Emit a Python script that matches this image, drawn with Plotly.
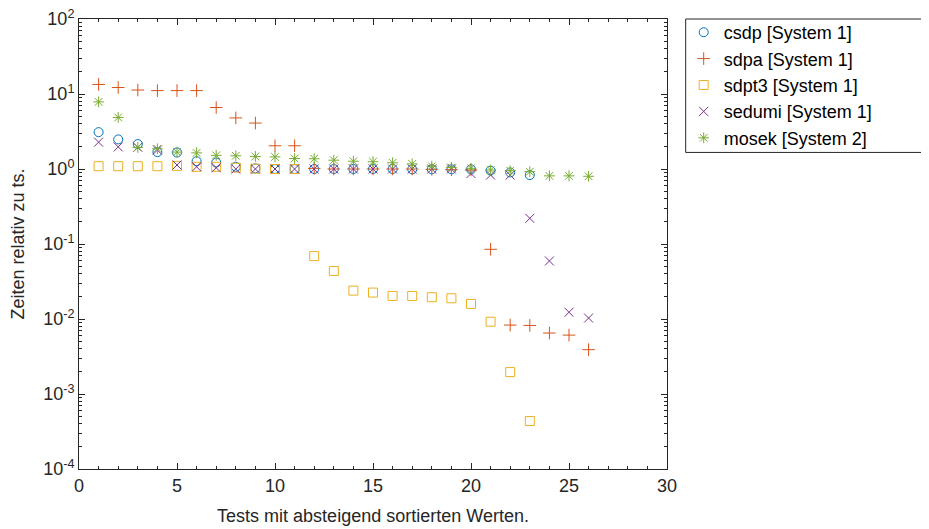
import plotly.graph_objects as go

tests = list(range(1, 27))

csdp = [3.1, 2.48, 2.15, 1.68, 1.66, 1.27, 1.22, 1.07, 1.02, 1.0, 1.0, 1.0, 1.0,
        1.0, 1.0, 1.0, 0.99, 0.99, 0.99, 0.99, 0.95, 0.90, 0.83]
sdpa = [13.4, 12.2, 11.3, 11.1, 11.1, 11.1, 6.6, 4.8, 4.1, 2.04, 2.04, 1.02, 1.0,
        1.0, 1.0, 1.0, 1.0, 0.99, 0.98, 0.97, 0.085, 0.0083, 0.0082, 0.0065, 0.0061, 0.0039]
sdpt3 = [1.09, 1.09, 1.09, 1.09, 1.1, 1.07, 1.07, 1.04, 1.01, 1.0, 1.0, 0.069, 0.0437,
         0.0239, 0.0225, 0.0203, 0.0203, 0.0195, 0.0189, 0.0159, 0.0092, 0.00196, 0.000436]
sedumi = [2.28, 1.97, 1.95, 1.79, 1.13, 1.07, 1.04, 1.0, 1.0, 1.0, 1.0, 1.0, 1.0,
          1.0, 1.0, 1.0, 1.0, 1.0, 1.0, 0.87, 0.83, 0.83, 0.22, 0.0594, 0.0123, 0.0103]
mosek = [7.85, 4.87, 1.94, 1.86, 1.68, 1.64, 1.52, 1.50, 1.47, 1.45, 1.38, 1.37, 1.31,
         1.27, 1.25, 1.21, 1.17, 1.09, 1.05, 1.02, 0.97, 0.95, 0.92, 0.81, 0.81, 0.80]

y_exponents = [-4, -3, -2, -1, 0, 1, 2]
y_tickvals = [10.0 ** e for e in y_exponents]
y_ticktext = [f"10<sup>{e}</sup>" for e in y_exponents]
y_minorvals = [m * 10.0 ** e for e in y_exponents[:-1] for m in range(2, 10)]

series = [
    ("csdp [System 1]", csdp, "circle-open", "#0072BD"),
    ("sdpa [System 1]", sdpa, "cross-thin-open", "#D95319"),
    ("sdpt3 [System 1]", sdpt3, "square-open", "#EDB120"),
    ("sedumi [System 1]", sedumi, "x-thin-open", "#7E2F8E"),
    ("mosek [System 2]", mosek, "asterisk-open", "#77AC30"),
]

fig = go.Figure()
for i, (name, vals, sym, col) in enumerate(series):
    fig.add_trace(go.Scatter(
        x=tests[:len(vals)], y=vals, mode="markers", name=name,
        legendgroup=f"g{i}",
        marker=dict(symbol=sym, size=9, color=col, line=dict(width=1, color=col)),
    ))

axcol = "#262626"
ff = "Liberation Sans, Arial, sans-serif"

# the page places the figure 8px from the window's top-left corner
W, H = 921, 521
L, T = 71.3, 10.7
R_px, B_px = 659.3, 461.3
PW, PH = R_px - L, B_px - T

fig.update_layout(
    width=W, height=H,
    margin=dict(l=L, r=W - R_px, t=T, b=H - B_px, autoexpand=False),
    paper_bgcolor="white", plot_bgcolor="white",
    font=dict(family=ff, size=18, color=axcol),
    showlegend=True,
    legend=dict(
        x=(684 - 8 - L) / PW, xanchor="left",
        y=1.0 + 5 / PH, yanchor="top",
        borderwidth=0, bgcolor="rgba(0,0,0,0)",
        font=dict(family=ff, size=18, color="#000000"),
        traceorder="grouped", tracegroupgap=0,
    ),
    shapes=[dict(
        type="rect", xref="paper", yref="paper",
        x0=(686 - 8 - L) / PW, x1=(923 - 8 - L) / PW,
        y0=(B_px - (152.3 - 8)) / PH, y1=1.0,
        line=dict(color=axcol, width=1), fillcolor="rgba(0,0,0,0)", layer="above",
    )],
    xaxis=dict(
        range=[0, 30], tick0=0, dtick=5, ticks="inside", ticklen=6,
        showline=True, linecolor=axcol, linewidth=1, mirror="ticks",
        showgrid=False, zeroline=False, tickcolor=axcol,
        minor=dict(ticks="inside", ticklen=3, dtick=1, tickcolor=axcol, showgrid=False),
        title=dict(text="Tests mit absteigend sortierten Werten.", standoff=14,
                   font=dict(size=18)),
    ),
    yaxis=dict(
        type="log", range=[-4, 2], tickmode="array",
        tickvals=y_tickvals, ticktext=y_ticktext, ticklabeloverflow="allow",
        ticks="inside", ticklen=6, tickfont=dict(size=18),
        showline=True, linecolor=axcol, linewidth=1, mirror="ticks",
        showgrid=False, zeroline=False, tickcolor=axcol,
        minor=dict(ticks="inside", ticklen=3, tickmode="array", tickvals=y_minorvals,
                   tickcolor=axcol, showgrid=False),
        title=dict(text="Zeiten relativ zu ts.", standoff=14, font=dict(size=18)),
    ),
)

fig.write_html("out.html")
